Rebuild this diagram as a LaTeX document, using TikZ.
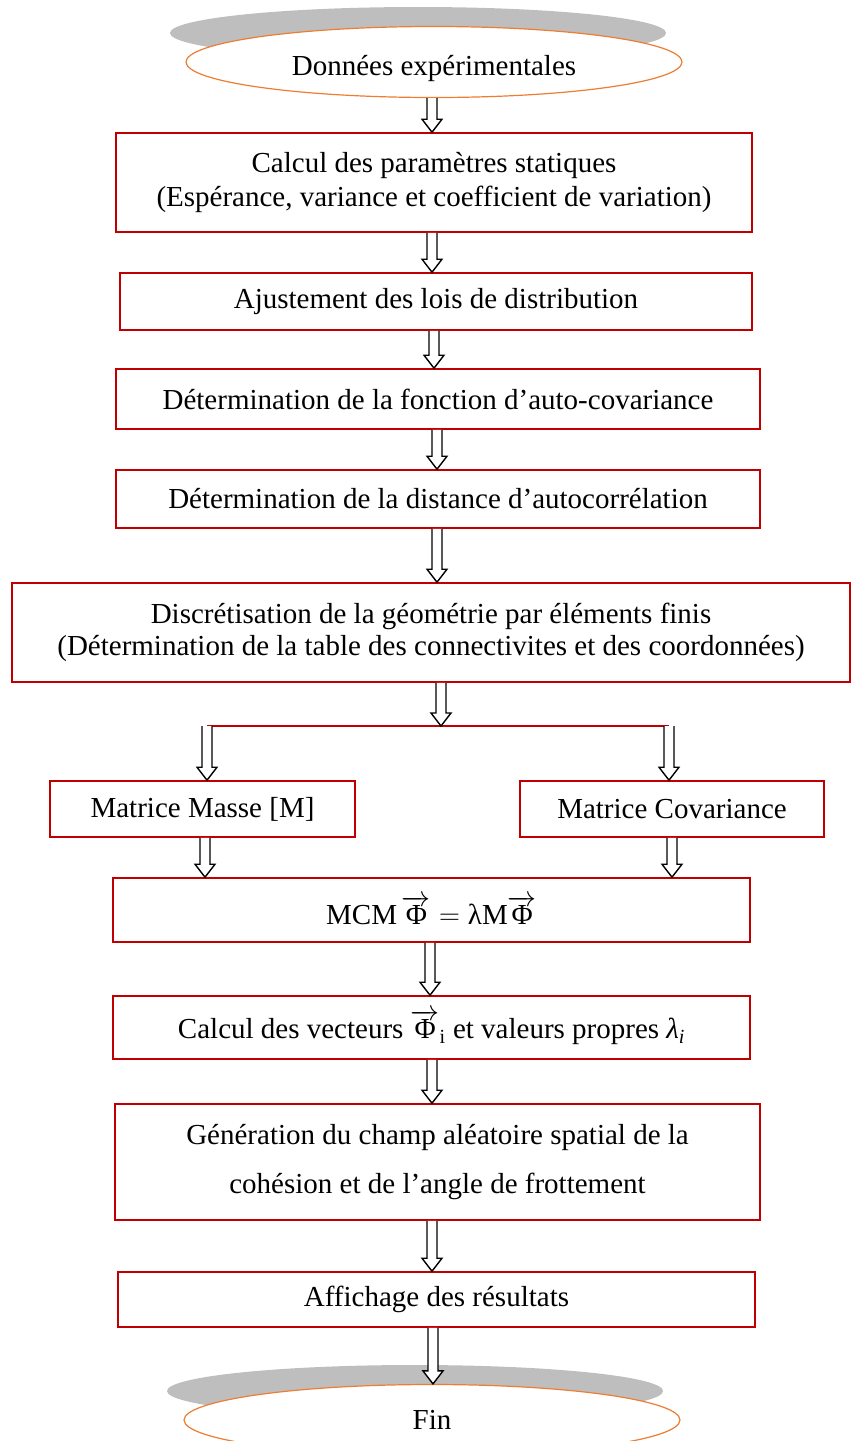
\RequirePackage{fix-cm}
\documentclass[tikz,border=0pt]{standalone}
\usepackage{fontspec}
\setmainfont{Liberation Serif}
\usetikzlibrary{calc,shapes.geometric}
\definecolor{boxred}{RGB}{192,0,0}
\definecolor{ellorange}{RGB}{237,125,49}
\definecolor{shadowgray}{RGB}{190,190,190}
\newcommand\harrow[3]{%
  \draw[hollowarrow] let \p1=(#2), \p2=(#3) in
   (#1pt-5pt,\y1) -- (#1pt-5pt,\y2+13pt) -- (#1pt-10pt,\y2+13pt) -- (#1pt,\y2)
   -- (#1pt+10pt,\y2+13pt) -- (#1pt+5pt,\y2+13pt) -- (#1pt+5pt,\y1);}
\begin{document}
\begin{tikzpicture}[x=1pt,y=-1pt,
  font=\fontsize{29}{34}\selectfont,
  box/.style={draw=boxred, line width=1.6pt, fill=white, inner sep=0pt, align=center},
  term/.style={ellipse, draw=ellorange, line width=1.2pt, fill=white, inner sep=0pt,
    minimum width=496, minimum height=71},
  hollowarrow/.style={draw=black, line width=1.4pt, fill=white, line join=miter}]
\useasboundingbox (0,0) rectangle (852,1441);
\clip (0,0) rectangle (852,1441);

% start terminal
\fill[shadowgray] (418,33) ellipse [x radius=248, y radius=26];
\node[term] (start) at (434,62) {\raisebox{-6pt}[\height][\depth]{Données expérimentales}};

% boxes
\node[box, minimum width=636, minimum height=99] (b1) at (434,182.5)
  {Calcul des paramètres statiques\\(Espérance, variance et coefficient de variation)};
\node[box, minimum width=632, minimum height=57] (b2) at (436,301.5)
  {Ajustement des lois de distribution};
\node[box, minimum width=644, minimum height=60] (b3) at (438,399)
  {Détermination de la fonction d’auto-covariance};
\node[box, minimum width=644, minimum height=58] (b4) at (438,499)
  {Détermination de la distance d’autocorrélation};
\node[box, minimum width=838, minimum height=99] (b5) at (431,632.5)
  {Discrétisation de la géométrie par éléments finis\\[-2pt](Détermination de la table des connectivites et des coordonnées)};
\node[box, minimum width=305, minimum height=56] (bm) at (202.5,809)
  {Matrice Masse [M]};
\node[box, minimum width=304, minimum height=56] (bc) at (672,809)
  {Matrice Covariance};
\node[box, minimum width=637, minimum height=64] (b6) at (431.5,910)
  {$\mbox{MCM}\,\overrightarrow{\mbox{Φ}}=\mbox{λM}\overrightarrow{\mbox{Φ}}$};
\node[box, minimum width=637, minimum height=63] (b7) at (431.5,1027.5)
  {Calcul des vecteurs $\overrightarrow{\mbox{Φ}}_{\mbox{\fontsize{20}{20}\selectfont i}}$ et valeurs propres \textit{λ}$_{\mbox{\fontsize{20}{20}\selectfont\itshape i}}$};
\node[box, minimum width=645, minimum height=116] (b8) at (437.5,1162)
  {Génération du champ aléatoire spatial de la\\[15pt]cohésion et de l’angle de frottement};
\node[box, minimum width=637, minimum height=55] (b9) at (436.5,1299.5)
  {Affichage des résultats};

% end terminal
\fill[shadowgray] (415,1391) ellipse [x radius=248, y radius=26];
\node[term] (fin) at (432,1420) {Fin};

% split line
\coordinate (split) at (441,726);
\coordinate (bl) at (207,726);
\coordinate (br) at (669,726);
\draw[boxred, line width=1.6pt] (bl) -- (br);

% arrows
\harrow{432}{start.south}{b1.north}
\harrow{432}{b1.south}{b2.north}
\harrow{434}{b2.south}{b3.north}
\harrow{437}{b3.south}{b4.north}
\harrow{437}{b4.south}{b5.north}
\harrow{441}{b5.south}{split}
\harrow{207}{bl}{bm.north}
\harrow{669}{br}{bc.north}
\harrow{205}{bm.south}{b6.north}
\harrow{672}{bc.south}{b6.north}
\harrow{430}{b6.south}{b7.north}
\harrow{432}{b7.south}{b8.north}
\harrow{432}{b8.south}{b9.north}
\harrow{433}{b9.south}{fin.north}
\end{tikzpicture}
\end{document}
